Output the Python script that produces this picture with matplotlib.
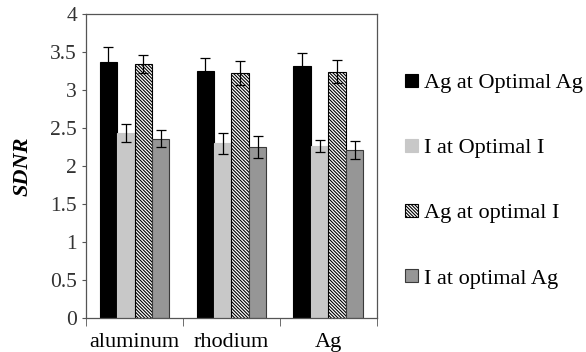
import numpy as np
import matplotlib.pyplot as plt

plt.rcParams['font.family'] = ['Liberation Serif', 'DejaVu Serif']
plt.rcParams['hatch.linewidth'] = 0.8

materials = ['aluminum', 'rhodium', 'Ag']
series_names = ['Ag at Optimal Ag', 'I at Optimal I', 'Ag at optimal I', 'I at optimal Ag']
ag_opt_ag = [3.37, 3.25, 3.32]
i_opt_i = [2.43, 2.30, 2.26]
ag_opt_i = [3.34, 3.22, 3.24]
i_opt_ag = [2.36, 2.25, 2.21]
ag_opt_ag_err = [0.20, 0.17, 0.17]
i_opt_i_err = [0.12, 0.14, 0.08]
ag_opt_i_err = [0.12, 0.16, 0.15]
i_opt_ag_err = [0.11, 0.14, 0.12]

values = [ag_opt_ag, i_opt_i, ag_opt_i, i_opt_ag]
errors = [ag_opt_ag_err, i_opt_i_err, ag_opt_i_err, i_opt_ag_err]
styles = [
    dict(color='black', edgecolor='black', hatch=None),
    dict(color='#c8c8c8', edgecolor='#c8c8c8', hatch=None),
    dict(color='white', edgecolor='black', hatch='\\' * 10),
    dict(color='#969696', edgecolor='#3a3a3a', hatch=None),
]

fig = plt.figure(figsize=(5.86, 3.52), dpi=100)
ax = fig.add_axes([0.147, 0.097, 0.496, 0.863])

x = np.arange(len(materials))
w = 0.18
for k in range(4):
    pos = x + (k - 1.5) * w
    ax.bar(pos, values[k], width=w, color=styles[k]['color'], edgecolor=styles[k]['edgecolor'],
           hatch=styles[k]['hatch'], linewidth=0.8, label=series_names[k],
           yerr=errors[k], capsize=3.5, error_kw=dict(ecolor='black', elinewidth=0.9, capthick=0.9))

ax.set_xlim(-0.5, 2.5)
ax.set_ylim(0, 4)
ax.set_yticks(np.arange(0, 4.01, 0.5))
ax.set_yticklabels(['0', '0.5', '1', '1.5', '2', '2.5', '3', '3.5', '4'])
ax.tick_params(axis='y', direction='out', length=3, labelsize=15.5, colors='#555555', labelcolor='#333333')

# category labels centred, ticks at group boundaries
ax.set_xticks(x)
ax.set_xticklabels(materials, fontsize=16)
ax.tick_params(axis='x', which='major', length=0, pad=11)
ax.set_xticks([-0.5, 0.5, 1.5, 2.5], minor=True)
ax.tick_params(axis='x', which='minor', direction='out', length=6, color='#555555')

for s in ax.spines.values():
    s.set_color('#555555')
    s.set_linewidth(0.9)

ax.set_ylabel('SDNR', fontsize=16, fontweight='bold', fontstyle='italic', labelpad=13)

ax.legend(loc='center left', bbox_to_anchor=(1.06, 0.45), frameon=False, fontsize=16,
          handlelength=0.55, handleheight=0.55, handletextpad=0.3, labelspacing=2.05,
          borderpad=0)

fig.savefig('out.png', dpi=100)
